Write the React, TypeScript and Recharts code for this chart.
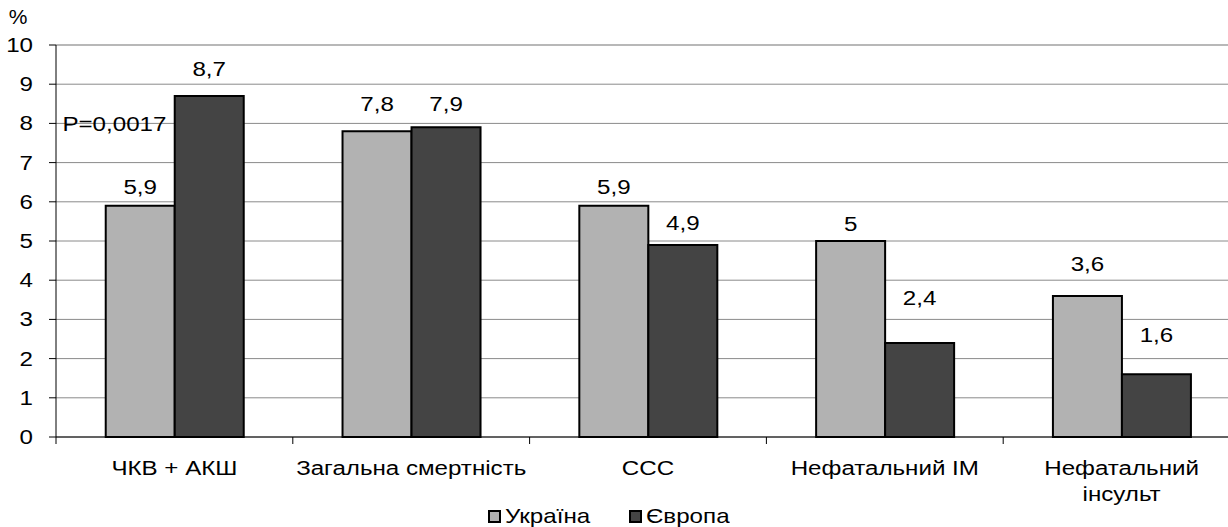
import { BarChart, Bar, XAxis, YAxis, CartesianGrid, LabelList, ReferenceLine, ReferenceDot } from 'recharts';

const categories = ['ЧКВ + АКШ', 'Загальна смертність', 'ССС', 'Нефатальний ІМ', 'Нефатальний\nінсульт'];
const ukraine = [5.9, 7.8, 5.9, 5, 3.6];
const europe = [8.7, 7.9, 4.9, 2.4, 1.6];
const seriesNames = ['Україна', 'Європа'];
const yTicks = [0, 1, 2, 3, 4, 5, 6, 7, 8, 9, 10];
const pValue = 'P=0,0017';

// how far each value label sits above its bar (the source places them by hand)
const ukraineLift = [20, 28, 20, 18, 33];
const europeLift = [28, 24, 23, 46, 40];

const FONT = '"Liberation Sans", Arial, sans-serif';
const FS = 21;
const STRETCH = 1.15; // source text is slightly widened
const COLORS = ['#b2b2b2', '#444444'];
const W = 1245;
const H = 527;
const X_H = 30;
const MARGIN = { top: 45, right: 5, left: 0, bottom: 90 - X_H };
const Y_W = 56;
const CW = (W - MARGIN.left - MARGIN.right - Y_W) / categories.length;

const data = categories.map((name, i) => ({ name, ukraine: ukraine[i], europe: europe[i] }));

const fmt = (v: number) => String(v).replace('.', ',');

const SText = ({ x, y, anchor = 'middle', children }: any) => (
  <text
    transform={`translate(${x},${y}) scale(${STRETCH},1)`}
    x={0}
    y={0}
    textAnchor={anchor}
    fontFamily={FONT}
    fontSize={FS}
    fill="#000"
  >
    {children}
  </text>
);

const makeLabel = (lift: number[]) => (props: any) => {
  const { x, y, width, value, index } = props;
  return (
    <SText x={x + width / 2} y={y - lift[index] + 8}>
      {fmt(value)}
    </SText>
  );
};

const XTick = (props: any) => {
  const { x, y, payload } = props;
  const lines = String(payload.value).split('\n');
  return (
    <g>
      <line x1={x - CW / 2} x2={x - CW / 2} y1={y} y2={y + 7} stroke="#000" strokeWidth={1} />
      {lines.map((l, i) => (
        <SText key={i} x={x} y={y + 38 + i * 26}>
          {l}
        </SText>
      ))}
    </g>
  );
};

const YTick = (props: any) => {
  const { x, y, payload } = props;
  return (
    <SText x={x} y={y + 7} anchor="end">
      {payload.value}
    </SText>
  );
};

const PLabel = (props: any) => {
  const vb = props.viewBox || {};
  return (
    <SText x={vb.x - 8} y={vb.y + 8} anchor="end">
      {pValue}
    </SText>
  );
};

export default function App() {
  return (
    <div style={{ position: 'absolute', left: 0, top: 0, width: 1228, height: 527, overflow: 'hidden', background: '#fff' }}>
      <BarChart width={W} height={H} data={data} margin={MARGIN} barCategoryGap="21%" barGap={0}>
        <CartesianGrid horizontal vertical={false} stroke="#8a8a8a" />
        <XAxis
          dataKey="name"
          height={X_H}
          axisLine={{ stroke: '#000' }}
          tickLine={false}
          tickSize={0}
          tickMargin={0}
          tick={<XTick />}
          interval={0}
        />
        <YAxis
          width={Y_W}
          domain={[0, 10]}
          ticks={yTicks}
          interval={0}
          axisLine={{ stroke: '#000' }}
          tickLine={{ stroke: '#000' }}
          tickSize={7}
          tickMargin={16}
          tick={<YTick />}
          label={{ value: '%', position: 'top', offset: 21, dx: -10, fontFamily: FONT, fontSize: FS, fill: '#000' }}
        />
        <ReferenceLine y={10} stroke="#b8b8b8" strokeWidth={2} />
        <Bar dataKey="ukraine" name={seriesNames[0]} fill={COLORS[0]} stroke="#000" strokeWidth={2} isAnimationActive={false}>
          <LabelList dataKey="ukraine" content={makeLabel(ukraineLift)} />
        </Bar>
        <Bar dataKey="europe" name={seriesNames[1]} fill={COLORS[1]} stroke="#000" strokeWidth={2} isAnimationActive={false}>
          <LabelList dataKey="europe" content={makeLabel(europeLift)} />
        </Bar>
        <ReferenceDot x={categories[0]} y={8} r={0} fill="none" stroke="none" label={<PLabel />} />
      </BarChart>
      <div
        style={{
          position: 'absolute',
          left: 488,
          top: 504,
          display: 'flex',
          alignItems: 'center',
          fontFamily: FONT,
          fontSize: FS,
          color: '#000',
          lineHeight: '24px',
        }}
      >
        {seriesNames.map((n, i) => (
          <div key={n} style={{ display: 'flex', alignItems: 'center', marginRight: 50 }}>
            <span
              style={{
                display: 'inline-block',
                width: 9,
                height: 9,
                background: COLORS[i],
                border: '2px solid #000',
                marginRight: 4,
              }}
            />
            <span style={{ display: 'inline-block', transform: `scaleX(${STRETCH})`, transformOrigin: 'left center' }}>{n}</span>
          </div>
        ))}
      </div>
    </div>
  );
}
